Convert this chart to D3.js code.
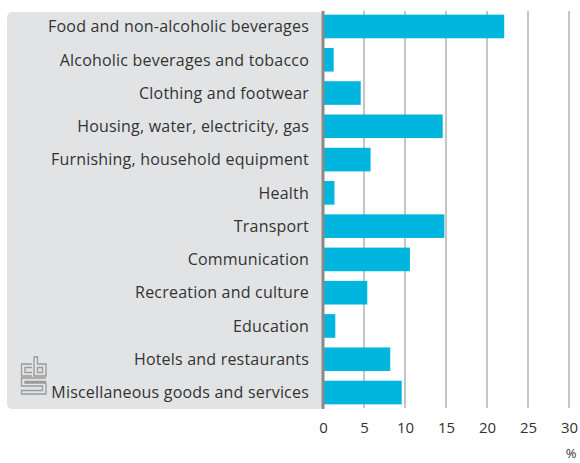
<!DOCTYPE html>
<html>
<head>
<meta charset="utf-8">
<script src="https://cdn.jsdelivr.net/npm/d3@7"></script>
<style>
  html, body { margin: 0; padding: 0; background: #fff; }
  svg { display: block; }
  text { font-family: "Open Sans", "Noto Sans", sans-serif; fill: #333; }
</style>
</head>
<body>
<svg id="chart" width="580" height="463"></svg>
<script>
// Household expenditure shares by spending category (%)
const categories = [
  "Food and non-alcoholic beverages",
  "Alcoholic beverages and tobacco",
  "Clothing and footwear",
  "Housing, water, electricity, gas",
  "Furnishing, household equipment",
  "Health",
  "Transport",
  "Communication",
  "Recreation and culture",
  "Education",
  "Hotels and restaurants",
  "Miscellaneous goods and services"
];
const shares = [22.1, 1.3, 4.6, 14.6, 5.8, 1.4, 14.8, 10.6, 5.4, 1.5, 8.2, 9.6];
const tickValues = [0, 5, 10, 15, 20, 25, 30];
const unitLabel = "%";

const svg = d3.select("#chart");

const x = d3.scaleLinear().domain([0, 30]).range([323, 569]);
const y = d3.scaleBand().domain(categories).range([11, 408])
  .paddingInner(0.29).paddingOuter(0.11);

// label panel
svg.append("rect")
  .attr("x", 7).attr("y", 12)
  .attr("width", x(0) - 7).attr("height", 397)
  .attr("rx", 5).attr("ry", 5)
  .attr("fill", "#e2e3e5");

// vertical gridlines
svg.append("g")
  .selectAll("line")
  .data(tickValues.filter(d => d > 0))
  .join("line")
  .attr("x1", d => x(d)).attr("x2", d => x(d))
  .attr("y1", 11).attr("y2", 408)
  .attr("stroke", "#a6a6a6")
  .attr("stroke-width", 1.3);

// bars
svg.append("g")
  .selectAll("rect")
  .data(categories)
  .join("rect")
  .attr("x", x(0))
  .attr("y", d => y(d))
  .attr("width", (d, i) => x(shares[i]) - x(0))
  .attr("height", y.bandwidth())
  .attr("fill", "#00b5de");

// zero baseline
svg.append("line")
  .attr("x1", x(0)).attr("x2", x(0))
  .attr("y1", 11).attr("y2", 409)
  .attr("stroke", "#8a8a8a")
  .attr("stroke-width", 3);

// category labels
svg.append("g")
  .selectAll("text")
  .data(categories)
  .join("text")
  .attr("x", 309)
  .attr("y", d => y(d) + y.bandwidth() / 2)
  .attr("dy", "0.36em")
  .attr("text-anchor", "end")
  .attr("font-size", 16)
  .attr("letter-spacing", 0.2)
  .text(d => d);

// x axis tick labels
const xAxis = d3.axisBottom(x).tickValues(tickValues).tickSize(0).tickPadding(0);
const ax = svg.append("g").attr("transform", "translate(0,422)").call(xAxis);
ax.select(".domain").remove();
ax.selectAll("text")
  .attr("font-size", 15)
  .attr("fill", "#333")
  .attr("font-family", "'Open Sans', 'Noto Sans', sans-serif");

// unit label under the axis
svg.append("text")
  .attr("x", 571).attr("y", 458)
  .attr("text-anchor", "middle")
  .attr("font-size", 13)
  .text(unitLabel);

// cbs emblem
const logo = svg.append("g")
  .attr("fill", "none")
  .attr("stroke", "#9a9a9a")
  .attr("stroke-width", 1.3);
const paths = [
  // c
  "M32,364 H21.5 V376 H32",
  "M32,367.5 H25 V372.5 H32",
  // b
  "M34,357 V376 H46 V364 H37.5 V357 Z",
  "M37.5,367.5 H42.5 V372.5 H37.5 Z",
  // s
  "M46,378 H21.5 V386 H42.5 V390.5 H21.5 V394 H46 V383 H25 V381.5 H46"
];
logo.selectAll("path").data(paths).join("path").attr("d", d => d);
</script>
</body>
</html>
